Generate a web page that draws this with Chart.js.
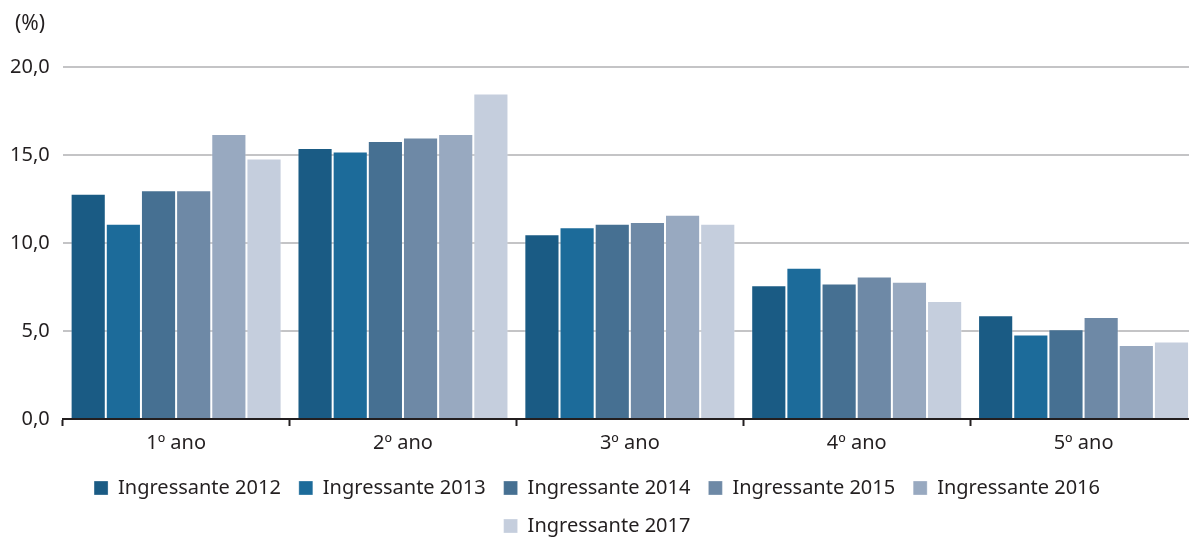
<!DOCTYPE html>
<html>
<head>
<meta charset="utf-8">
<script src="https://cdn.jsdelivr.net/npm/chart.js@4.4.1/dist/chart.umd.min.js"></script>
<style>
  html, body { margin: 0; padding: 0; background: #fff; overflow: hidden; }
  #wrap { width: 1200px; height: 539px; }
</style>
</head>
<body>
<div id="wrap"><canvas id="chart" width="1200" height="539"></canvas></div>
<script>
// Categories and series (values in %)
const categories = ['1º ano', '2º ano', '3º ano', '4º ano', '5º ano'];
const seriesNames = ['Ingressante 2012', 'Ingressante 2013', 'Ingressante 2014', 'Ingressante 2015', 'Ingressante 2016', 'Ingressante 2017'];
const ingressante2012 = [12.8, 15.4, 10.5, 7.6, 5.9];
const ingressante2013 = [11.1, 15.2, 10.9, 8.6, 4.8];
const ingressante2014 = [13.0, 15.8, 11.1, 7.7, 5.1];
const ingressante2015 = [13.0, 16.0, 11.2, 8.1, 5.8];
const ingressante2016 = [16.2, 16.2, 11.6, 7.8, 4.2];
const ingressante2017 = [14.8, 18.5, 11.1, 6.7, 4.4];
const yTickLabels = ['0,0', '5,0', '10,0', '15,0', '20,0'];

const colors = ['#1a5b84', '#1c6b9a', '#467092', '#6e89a6', '#98a9c0', '#c5cedd'];
const allSeries = [ingressante2012, ingressante2013, ingressante2014, ingressante2015, ingressante2016, ingressante2017];

const FONT = '"Noto Sans", "Open Sans", sans-serif';
const TEXT = '#231f20';

// Draws the "(%)" unit label above the y axis
const unitLabel = {
    id: 'unitLabel',
    afterDraw(chart) {
        const ctx = chart.ctx;
        ctx.save();
        ctx.font = '21px ' + FONT;
        ctx.fillStyle = TEXT;
        ctx.textAlign = 'left';
        ctx.textBaseline = 'middle';
        ctx.fillText('(%)', 15, 24);
        ctx.restore();
    }
};

new Chart(document.getElementById('chart'), {
    type: 'bar',
    data: {
        labels: categories,
        datasets: allSeries.map((values, i) => ({
            label: seriesNames[i],
            data: values,
            backgroundColor: colors[i],
            borderColor: 'rgba(255,255,255,0.3)',
            borderWidth: 1,
            categoryPercentage: 0.93,
            barPercentage: 1.0
        }))
    },
    options: {
        responsive: false,
        animation: false,
        layout: { padding: { left: -3, right: 3, top: 67, bottom: -7 } },
        plugins: {
            tooltip: { enabled: false },
            legend: {
                position: 'bottom',
                labels: {
                    color: TEXT,
                    font: { family: FONT, size: 20 },
                    boxWidth: 14,
                    boxHeight: 14,
                    padding: 18
                }
            }
        },
        scales: {
            x: {
                offset: true,
                grid: {
                    offset: true,
                    drawOnChartArea: false,
                    drawTicks: true,
                    tickLength: 7,
                    color: '#231f20',
                    tickWidth: 2
                },
                border: { display: true, color: '#231f20', width: 2 },
                ticks: {
                    color: TEXT,
                    font: { family: FONT, size: 20 },
                    padding: 5
                }
            },
            y: {
                min: 0,
                max: 20,
                ticks: {
                    stepSize: 5,
                    color: TEXT,
                    font: { family: FONT, size: 20 },
                    padding: 13,
                    callback: (value) => yTickLabels[value / 5]
                },
                grid: {
                    color: '#c4c4c6',
                    lineWidth: 2,
                    drawTicks: false
                },
                border: { display: false }
            }
        }
    },
    plugins: [unitLabel]
});
</script>
</body>
</html>
